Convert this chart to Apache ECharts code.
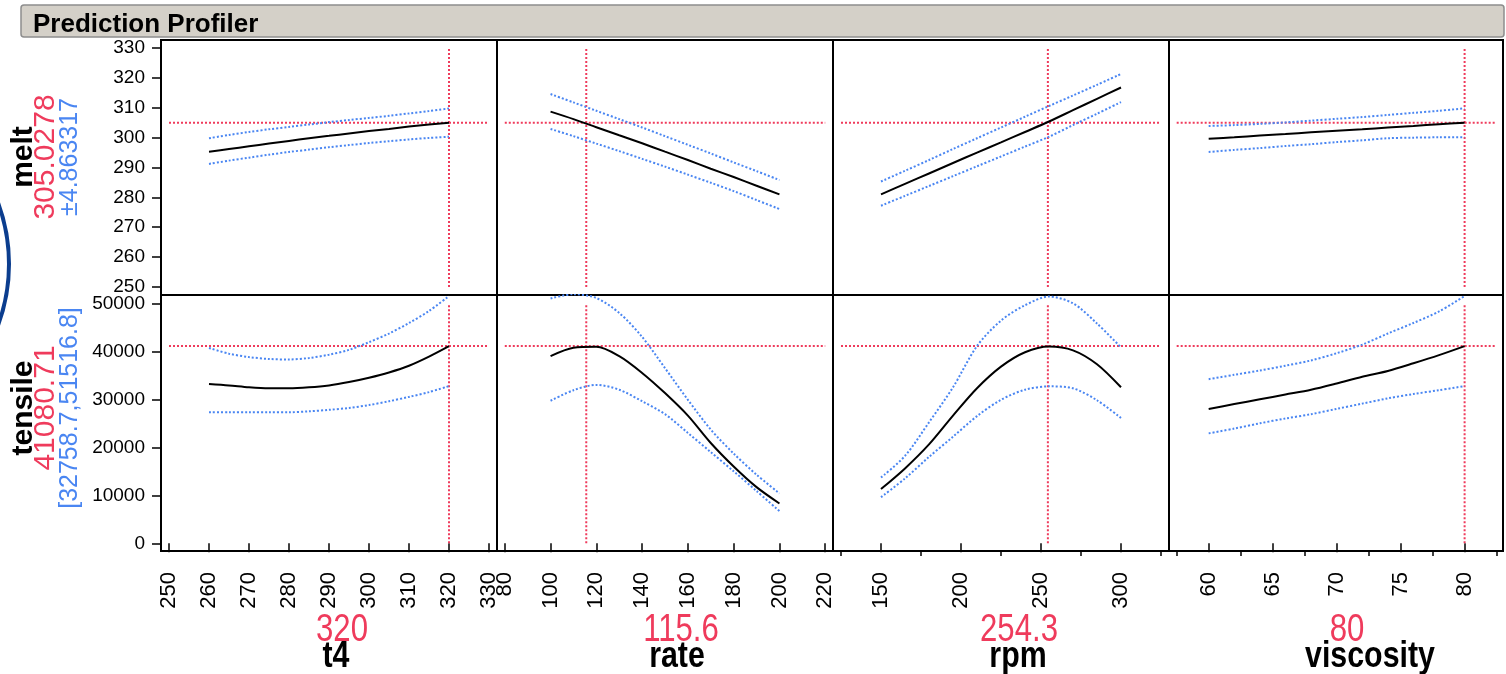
<!DOCTYPE html>
<html>
<head>
<meta charset="utf-8">
<title>Prediction Profiler</title>
<script src="https://cdn.jsdelivr.net/npm/echarts@6/dist/echarts.min.js"></script>
<style>
html, body { margin: 0; padding: 0; background: #fff; }
#chart { width: 1506px; height: 674px; }
</style>
</head>
<body>
<div id="chart"></div>
<script>
// factors (columns) and responses (rows)
var factors = ['t4', 'rate', 'rpm', 'viscosity'];
var currentX = [320, 115.6, 254.3, 80];
var currentXText = ['320', '115.6', '254.3', '80'];
var responses = ['melt', 'tensile'];
var predicted = [305.0278, 41080.71];
var predictedText = ['305.0278', '41080.71'];
var intervalText = ['\u00b14.863317', '[32758.7,51516.8]'];

// factor grid values
var t4X = [260, 265, 270, 275, 280, 285, 290, 295, 300, 305, 310, 315, 320];
var rateX = [100, 110, 120, 130, 140, 150, 160, 170, 180, 190, 200];
var rpmX = [150, 165, 180, 195, 210, 225, 240, 255, 270, 285, 300];
var viscX = [60, 62, 64, 66, 68, 70, 72, 74, 76, 78, 80];

// melt profiles (prediction, upper, lower)
var meltT4 = [295.3, 296.2, 297.1, 298.0, 298.9, 299.8, 300.6, 301.4, 302.2, 302.9, 303.7, 304.4, 305.0];
var meltT4Hi = [299.8, 300.9, 301.9, 302.8, 303.6, 304.4, 305.2, 305.9, 306.6, 307.3, 308.1, 308.9, 309.8];
var meltT4Lo = [291.2, 292.3, 293.3, 294.3, 295.2, 296.0, 296.8, 297.5, 298.2, 298.8, 299.4, 299.9, 300.3];
var meltRate = [308.7, 306.2, 303.5, 300.8, 298.1, 295.3, 292.5, 289.6, 286.8, 283.9, 281.0];
var meltRateHi = [314.6, 311.8, 309.0, 306.2, 303.4, 300.5, 297.6, 294.7, 291.7, 288.8, 285.8];
var meltRateLo = [302.9, 300.5, 298.0, 295.5, 292.9, 290.3, 287.6, 284.9, 282.1, 279.1, 276.1];
var meltRpm = [281.0, 284.5, 288.0, 291.5, 295.0, 298.4, 301.9, 305.4, 309.2, 313.0, 316.8];
var meltRpmHi = [285.3, 288.9, 292.5, 296.2, 299.8, 303.4, 307.0, 310.6, 314.1, 317.7, 321.3];
var meltRpmLo = [277.2, 280.5, 283.8, 287.1, 290.4, 293.7, 297.0, 300.3, 304.2, 308.0, 311.9];
var meltVisc = [299.6, 300.1, 300.7, 301.2, 301.8, 302.3, 302.8, 303.4, 303.9, 304.5, 305.0];
var meltViscHi = [303.9, 304.2, 304.6, 305.1, 305.7, 306.3, 306.9, 307.6, 308.3, 309.0, 309.8];
var meltViscLo = [295.2, 295.9, 296.5, 297.2, 297.8, 298.5, 299.1, 299.8, 300.0, 300.1, 300.1];

// tensile profiles (prediction, upper, lower)
var tensT4 = [33200, 32900, 32500, 32300, 32300, 32500, 32900, 33600, 34500, 35600, 37000, 38900, 41081];
var tensT4Hi = [40700, 39500, 38800, 38400, 38300, 38600, 39300, 40300, 41900, 43700, 45900, 48400, 51517];
var tensT4Lo = [27300, 27300, 27300, 27300, 27300, 27500, 27800, 28200, 28800, 29600, 30500, 31500, 32759];
var tensRate = [39000, 40750, 40950, 39000, 35500, 31300, 26600, 20900, 16000, 11700, 8300];
var tensRateHi = [51000, 51900, 51100, 48000, 43000, 36500, 29900, 23700, 18700, 14300, 10400];
var tensRateLo = [29700, 31900, 33000, 32000, 29600, 26900, 23000, 19000, 15000, 10900, 6700];
var tensRpm = [11300, 15600, 20600, 26600, 32300, 36800, 39800, 41000, 40200, 37300, 32500];
var tensRpmHi = [13700, 18200, 25200, 32500, 41100, 46400, 49600, 51400, 50000, 45800, 40800];
var tensRpmLo = [9600, 13500, 18000, 22200, 26500, 29900, 32000, 32700, 32300, 29800, 26100];
var tensVisc = [28000, 29000, 30000, 31000, 32000, 33300, 34700, 35900, 37500, 39200, 41081];
var tensViscHi = [34200, 35100, 36000, 37000, 38100, 39600, 41400, 43700, 45900, 48300, 51517];
var tensViscLo = [22900, 23900, 25000, 26000, 26900, 28000, 29100, 30200, 31100, 31900, 32759];

// tick labels
var t4Ticks = [250, 260, 270, 280, 290, 300, 310, 320, 330];
var rateTicks = [80, 100, 120, 140, 160, 180, 200, 220];
var rpmTicks = [150, 200, 250, 300];
var rpmMinor = [125, 175, 225, 275, 325];
var viscTicks = [60, 65, 70, 75, 80];
var viscMinor = [57.5, 62.5, 67.5, 72.5, 77.5, 82.5];
var meltTicks = [250, 260, 270, 280, 290, 300, 310, 320, 330];
var tensTicks = [0, 10000, 20000, 30000, 40000, 50000];

// axis ranges
var xMin = [248, 76.6, 120, 56.9];
var xMax = [332, 223.4, 330, 83.0];
var yMin = [247.3, -1603];
var yMax = [332.7, 51730];

var xValues = [t4X, rateX, rpmX, viscX];
var xTicks = [t4Ticks, rateTicks, rpmTicks, viscTicks];
var xMinor = [[], [], rpmMinor, viscMinor];
var yTicks = [meltTicks, tensTicks];
var profiles = [
    [[meltT4, meltT4Hi, meltT4Lo], [meltRate, meltRateHi, meltRateLo],
     [meltRpm, meltRpmHi, meltRpmLo], [meltVisc, meltViscHi, meltViscLo]],
    [[tensT4, tensT4Hi, tensT4Lo], [tensRate, tensRateHi, tensRateLo],
     [tensRpm, tensRpmHi, tensRpmLo], [tensVisc, tensViscHi, tensViscLo]]
];

var RED = '#ef3b5c';
var BLUE = '#4a86f2';
var SANS = "'Liberation Sans', Arial, sans-serif";

var colLeft = [161, 497, 833, 1169];
var colWidth = [336, 336, 336, 334];
var rowTop = [40, 295];
var rowHeight = [255, 256];

function zip(xs, ys) {
    return xs.map(function (x, i) { return [x, ys[i]]; });
}

var grids = [], xAxes = [], yAxes = [], series = [];

for (var r = 0; r < 2; r++) {
    for (var c = 0; c < 4; c++) {
        var g = r * 4 + c;
        grids.push({
            left: colLeft[c], top: rowTop[r], width: colWidth[c], height: rowHeight[r],
            show: true, borderColor: '#000', borderWidth: 2, backgroundColor: '#fff'
        });
        var bottom = r === 1;
        xAxes.push({
            type: 'value', gridIndex: g, position: 'bottom', min: xMin[c], max: xMax[c],
            axisLine: { show: false },
            splitLine: { show: false },
            axisTick: {
                show: bottom, length: 9, customValues: xTicks[c],
                lineStyle: { color: '#000', width: 1.5 }
            },
            axisLabel: {
                show: bottom, customValues: xTicks[c], rotate: 90, margin: 21,
                fontFamily: SANS, fontSize: 22, color: '#000',
                formatter: function (v) { return String(v); }
            }
        });
        yAxes.push({
            type: 'value', gridIndex: g, min: yMin[r], max: yMax[r],
            axisLine: { show: false },
            splitLine: { show: false },
            axisTick: {
                show: c === 0, length: 9, customValues: yTicks[r],
                lineStyle: { color: '#000', width: 1.5 }
            },
            axisLabel: {
                show: c === 0, customValues: yTicks[r], margin: 16,
                fontFamily: SANS, fontSize: 19, color: '#000',
                formatter: function (v) { return String(v); }
            }
        });

        var xt = xTicks[c].concat(xMinor[c]);
        var xLo = Math.min.apply(null, xt), xHi = Math.max.apply(null, xt);
        var yt = yTicks[r];

        series.push({
            type: 'line', xAxisIndex: g, yAxisIndex: g, symbol: 'none', silent: true,
            lineStyle: { color: RED, type: [2, 2], width: 2 },
            data: [[xLo, predicted[r]], [xHi, predicted[r]]]
        });
        series.push({
            type: 'line', xAxisIndex: g, yAxisIndex: g, symbol: 'none', silent: true,
            lineStyle: { color: RED, type: [2, 2], width: 2 },
            data: [[currentX[c], yt[0]], [currentX[c], yt[yt.length - 1]]]
        });
        var p = profiles[r][c];
        [1, 2].forEach(function (k) {
            series.push({
                type: 'line', xAxisIndex: g, yAxisIndex: g, symbol: 'none', silent: true,
                smooth: 0.3,
                lineStyle: { color: BLUE, type: [2, 2], width: 2 },
                data: zip(xValues[c], p[k])
            });
        });
        series.push({
            type: 'line', xAxisIndex: g, yAxisIndex: g, symbol: 'none', silent: true,
            smooth: 0.3,
            lineStyle: { color: '#000', width: 2 },
            data: zip(xValues[c], p[0])
        });
    }
}

// shorter unlabelled ticks on rpm and viscosity
[2, 3].forEach(function (c) {
    xAxes.push({
        type: 'value', gridIndex: 4 + c, position: 'bottom', min: xMin[c], max: xMax[c],
        axisLine: { show: false }, splitLine: { show: false }, axisLabel: { show: false },
        axisTick: { show: true, length: 5, customValues: xMinor[c], lineStyle: { color: '#000', width: 1.5 } }
    });
});

var rowMid = [157, 408];
var labelCols = [24, 46, 70];
var graphics = [
    {
        type: 'rect', shape: { x: 21, y: 5, width: 1483, height: 32, r: 3 },
        style: { fill: '#d4d0c8', stroke: '#8d8d8d', lineWidth: 1.5 }
    },
    {
        type: 'text', x: 33, y: 25,
        style: { text: 'Prediction Profiler', font: 'bold 26px ' + SANS, fill: '#000',
            textVerticalAlign: 'middle', verticalAlign: 'middle' }
    },
    {
        type: 'circle', shape: { cx: -168, cy: 264, r: 177 },
        style: { fill: 'none', stroke: '#0b3d8e', lineWidth: 4 }
    }
];

responses.forEach(function (name, r) {
    var texts = [
        [name, 'bold 30px ' + SANS, '#000'],
        [predictedText[r], '30px ' + SANS, RED],
        [intervalText[r], '25px ' + SANS, BLUE]
    ];
    texts.forEach(function (t, i) {
        graphics.push({
            type: 'text', x: labelCols[i], y: rowMid[r], rotation: Math.PI / 2,
            style: { text: t[0], font: t[1], fill: t[2],
                textAlign: 'center', align: 'center',
                textVerticalAlign: 'middle', verticalAlign: 'middle' }
        });
    });
});

// factor values and names under the columns, condensed like the original
var factorMid = [336, 677, 1018, 1370];
var valueMid = [342, 681, 1019, 1347];
factors.forEach(function (name, c) {
    graphics.push({
        type: 'text', x: valueMid[c], y: 631, scaleX: 0.82,
        style: { text: currentXText[c], font: '38px ' + SANS, fill: RED,
            textAlign: 'center', align: 'center', textVerticalAlign: 'middle', verticalAlign: 'middle' }
    });
    graphics.push({
        type: 'text', x: factorMid[c], y: 657, scaleX: 0.82,
        style: { text: name, font: 'bold 37px ' + SANS, fill: '#000',
            textAlign: 'center', align: 'center', textVerticalAlign: 'middle', verticalAlign: 'middle' }
    });
});

var chart = echarts.init(document.getElementById('chart'));
chart.setOption({
    animation: false,
    grid: grids,
    xAxis: xAxes,
    yAxis: yAxes,
    series: series,
    graphic: graphics
});
</script>
</body>
</html>
